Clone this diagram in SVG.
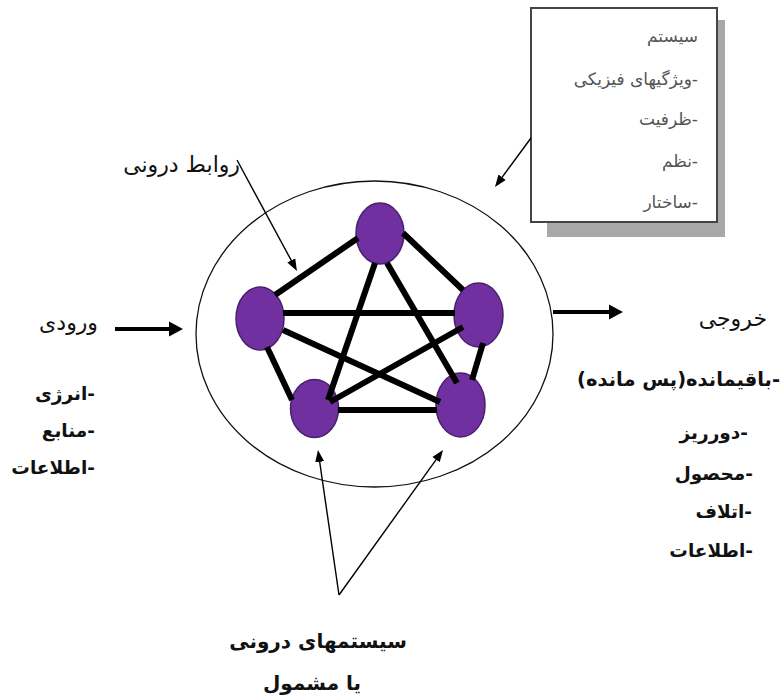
<svg xmlns="http://www.w3.org/2000/svg" width="780" height="698" viewBox="0 0 780 698">
<style>
.fa{font-family:"DejaVu Sans","Noto Sans",sans-serif;direction:rtl;text-anchor:start;fill:#111}
.b{font-weight:bold}
.box{font-size:17px;fill:#555}
.lst{font-size:18.5px}
.hd{font-size:22px}
.node{fill:#7030A0;stroke:#4a1f6e;stroke-width:1.5}
.edge{stroke:#000;stroke-width:6;stroke-linecap:butt}
.thick{stroke:#000;stroke-width:4;fill:none}
.thin{stroke:#000;stroke-width:1.4;fill:none}
</style>
<defs>
<marker id="ah" markerUnits="userSpaceOnUse" markerWidth="16" markerHeight="18" viewBox="0 -9 16 18" refX="2" refY="0" orient="auto">
<path d="M0,-7.5 L14,0 L0,7.5 z" fill="#000"/>
</marker>
<marker id="as" markerUnits="userSpaceOnUse" markerWidth="14" markerHeight="12" viewBox="0 -6 14 12" refX="2" refY="0" orient="auto">
<path d="M0,-4.5 L12,0 L0,4.5 z" fill="#000"/>
</marker>
</defs>
<rect width="780" height="698" fill="#fff"/>

<g id="system-box">
<rect x="547" y="20" width="178" height="217" fill="#a8a8a8"/>
<rect x="531" y="8" width="186" height="214" fill="#fff" stroke="#444" stroke-width="2"/>
<text class="fa box" x="698" y="42">سیستم</text>
<text class="fa box" x="698" y="85">-ویژگیهای فیزیکی</text>
<text class="fa box" x="698" y="125">-ظرفیت</text>
<text class="fa box" x="698" y="167">-نظم</text>
<text class="fa box" x="698" y="208">-ساختار</text>
</g>

<g id="system-boundary">
<ellipse cx="374.5" cy="334" rx="178.5" ry="153" fill="none" stroke="#111" stroke-width="1.3"/>
</g>

<g id="node-top"><ellipse class="node" cx="380" cy="233.5" rx="24" ry="30.5"/></g>
<g id="node-left"><ellipse class="node" cx="260" cy="318.5" rx="24" ry="31.5"/></g>
<g id="node-right"><ellipse class="node" cx="478.5" cy="315" rx="24.5" ry="32"/></g>
<g id="node-bottom-left"><ellipse class="node" cx="314.5" cy="408.5" rx="24" ry="29"/></g>
<g id="node-bottom-right"><ellipse class="node" cx="460.5" cy="405" rx="24.5" ry="32"/></g>

<g id="connectors">
<line class="edge" x1="275" y1="295" x2="358" y2="238"/>
<line class="edge" x1="403" y1="233" x2="463" y2="290"/>
<line class="edge" x1="283" y1="313" x2="455" y2="313"/>
<line class="edge" x1="283" y1="330" x2="440" y2="402"/>
<line class="edge" x1="267" y1="347" x2="292" y2="400"/>
<line class="edge" x1="375" y1="263" x2="328" y2="400"/>
<line class="edge" x1="387" y1="263" x2="457" y2="383"/>
<line class="edge" x1="463" y1="327" x2="330" y2="402"/>
<line class="edge" x1="483" y1="343" x2="472" y2="380"/>
<line class="edge" x1="338" y1="410" x2="437" y2="410"/>
<line class="thick" x1="115" y1="329" x2="171" y2="329" marker-end="url(#ah)"/>
<line class="thick" x1="553" y1="312" x2="611" y2="312" marker-end="url(#ah)"/>
<line class="thin" x1="237" y1="160" x2="292.2" y2="262.2" marker-end="url(#as)"/>
<line class="thin" x1="531" y1="138" x2="500.9" y2="178.9" marker-end="url(#as)"/>
<line class="thin" x1="339" y1="595" x2="319.4" y2="459.9" marker-end="url(#as)"/>
<line class="thin" x1="339" y1="595" x2="437.2" y2="458.1" marker-end="url(#as)"/>
</g>

<g id="label-relations"><text class="fa hd" x="240" y="172">روابط درونی</text></g>

<g id="inputs">
<text class="fa hd" x="98" y="330">ورودی</text>
<text class="fa b lst" x="95" y="400">-انرژی</text>
<text class="fa b lst" x="95" y="437">-منابع</text>
<text class="fa b lst" x="95" y="474">-اطلاعات</text>
</g>

<g id="outputs">
<text class="fa hd" x="767" y="326">خروجی</text>
<text class="fa b lst" x="780" y="386" style="font-size:19.5px">-باقیمانده(پس مانده)</text>
<text class="fa b lst" x="748" y="439">-دورریز</text>
<text class="fa b lst" x="753" y="480">-محصول</text>
<text class="fa b lst" x="752" y="518">-اتلاف</text>
<text class="fa b lst" x="753" y="557">-اطلاعات</text>
</g>

<g id="label-subsystems">
<text class="fa b" x="318" y="648" font-size="20" style="text-anchor:middle">سیستمهای درونی</text>
<text class="fa b" x="312" y="690" font-size="20" style="text-anchor:middle">یا مشمول</text>
</g>
</svg>
